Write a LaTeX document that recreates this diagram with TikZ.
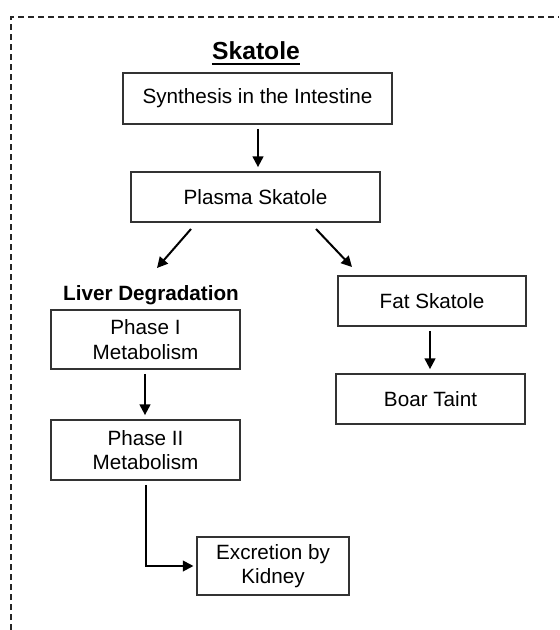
\documentclass[tikz,border=0pt]{standalone}
\usepackage{fontspec}
\setmainfont{Liberation Sans}
\usetikzlibrary{arrows.meta}
\begin{document}
\begin{tikzpicture}[x=0.75pt,y=-0.75pt,
  box/.style={draw=black!80,line width=1.3pt,fill=white,inner sep=0pt,align=center,
    font=\fontsize{15.5}{18.5}\selectfont},
  conn/.style={line width=1.5pt,-{Triangle[length=8pt,width=8pt]}},
  heading/.style={font=\bfseries\fontsize{15.5}{18}\selectfont,inner sep=0pt}]
\useasboundingbox (0,0) rectangle (559,630);
% dashed frame
\draw[dashed,dash pattern=on 4.5pt off 3pt,line width=0.8pt,black!85] (11,630) -- (11,17) -- (559,17);
% title with a heavy underline
\node[inner sep=0pt,font=\bfseries\fontsize{18.5}{20}\selectfont] (title) at (256,51) {Skatole};
\draw[line width=1.6pt] ([yshift=-3pt]title.south west) -- ([yshift=-3pt]title.south east);
% boxes
\node[box,minimum width=269*0.75pt,minimum height=51*0.75pt] (syn) at (257.5,98.5) {Synthesis in the Intestine};
\node[box,minimum width=249*0.75pt,minimum height=50*0.75pt] (plasma) at (255.5,197) {Plasma Skatole};
\node[heading] (liver) at (151,295) {Liver Degradation};
\node[box,minimum width=189*0.75pt,minimum height=59*0.75pt] (ph1) at (145.5,339.5) {Phase I\\Metabolism};
\node[box,minimum width=189*0.75pt,minimum height=60*0.75pt] (ph2) at (145.5,450) {Phase II\\Metabolism};
\node[box,minimum width=152*0.75pt,minimum height=58*0.75pt] (kid) at (273,566) {Excretion by\\Kidney};
\node[box,minimum width=188*0.75pt,minimum height=50*0.75pt] (fat) at (432,301) {Fat Skatole};
\node[box,minimum width=189*0.75pt,minimum height=50*0.75pt] (boar) at (430.5,399) {Boar Taint};
% columns for the vertical arrows
\coordinate (cmid) at (258,0);
\coordinate (cleft) at (145,0);
\coordinate (cright) at (430,0);
% connectors
\draw[conn] ([yshift=-3pt]syn.south -| cmid) -- ([yshift=3pt]plasma.north -| cmid);
\coordinate (pl1) at (191,229);
\coordinate (pl2) at (157,268);
\coordinate (pr1) at (316,229);
\coordinate (pr2) at (352,267);
\draw[conn] (pl1) -- (pl2);
\draw[conn] (pr1) -- (pr2);
\draw[conn] ([yshift=-3pt]ph1.south -| cleft) -- ([yshift=3pt]ph2.north -| cleft);
\draw[conn] ([yshift=-3pt]fat.south -| cright) -- ([yshift=3pt]boar.north -| cright);
\draw[conn,line join=miter] ([yshift=-3pt]ph2.south) |- ([xshift=-2pt]kid.west);
\end{tikzpicture}
\end{document}
